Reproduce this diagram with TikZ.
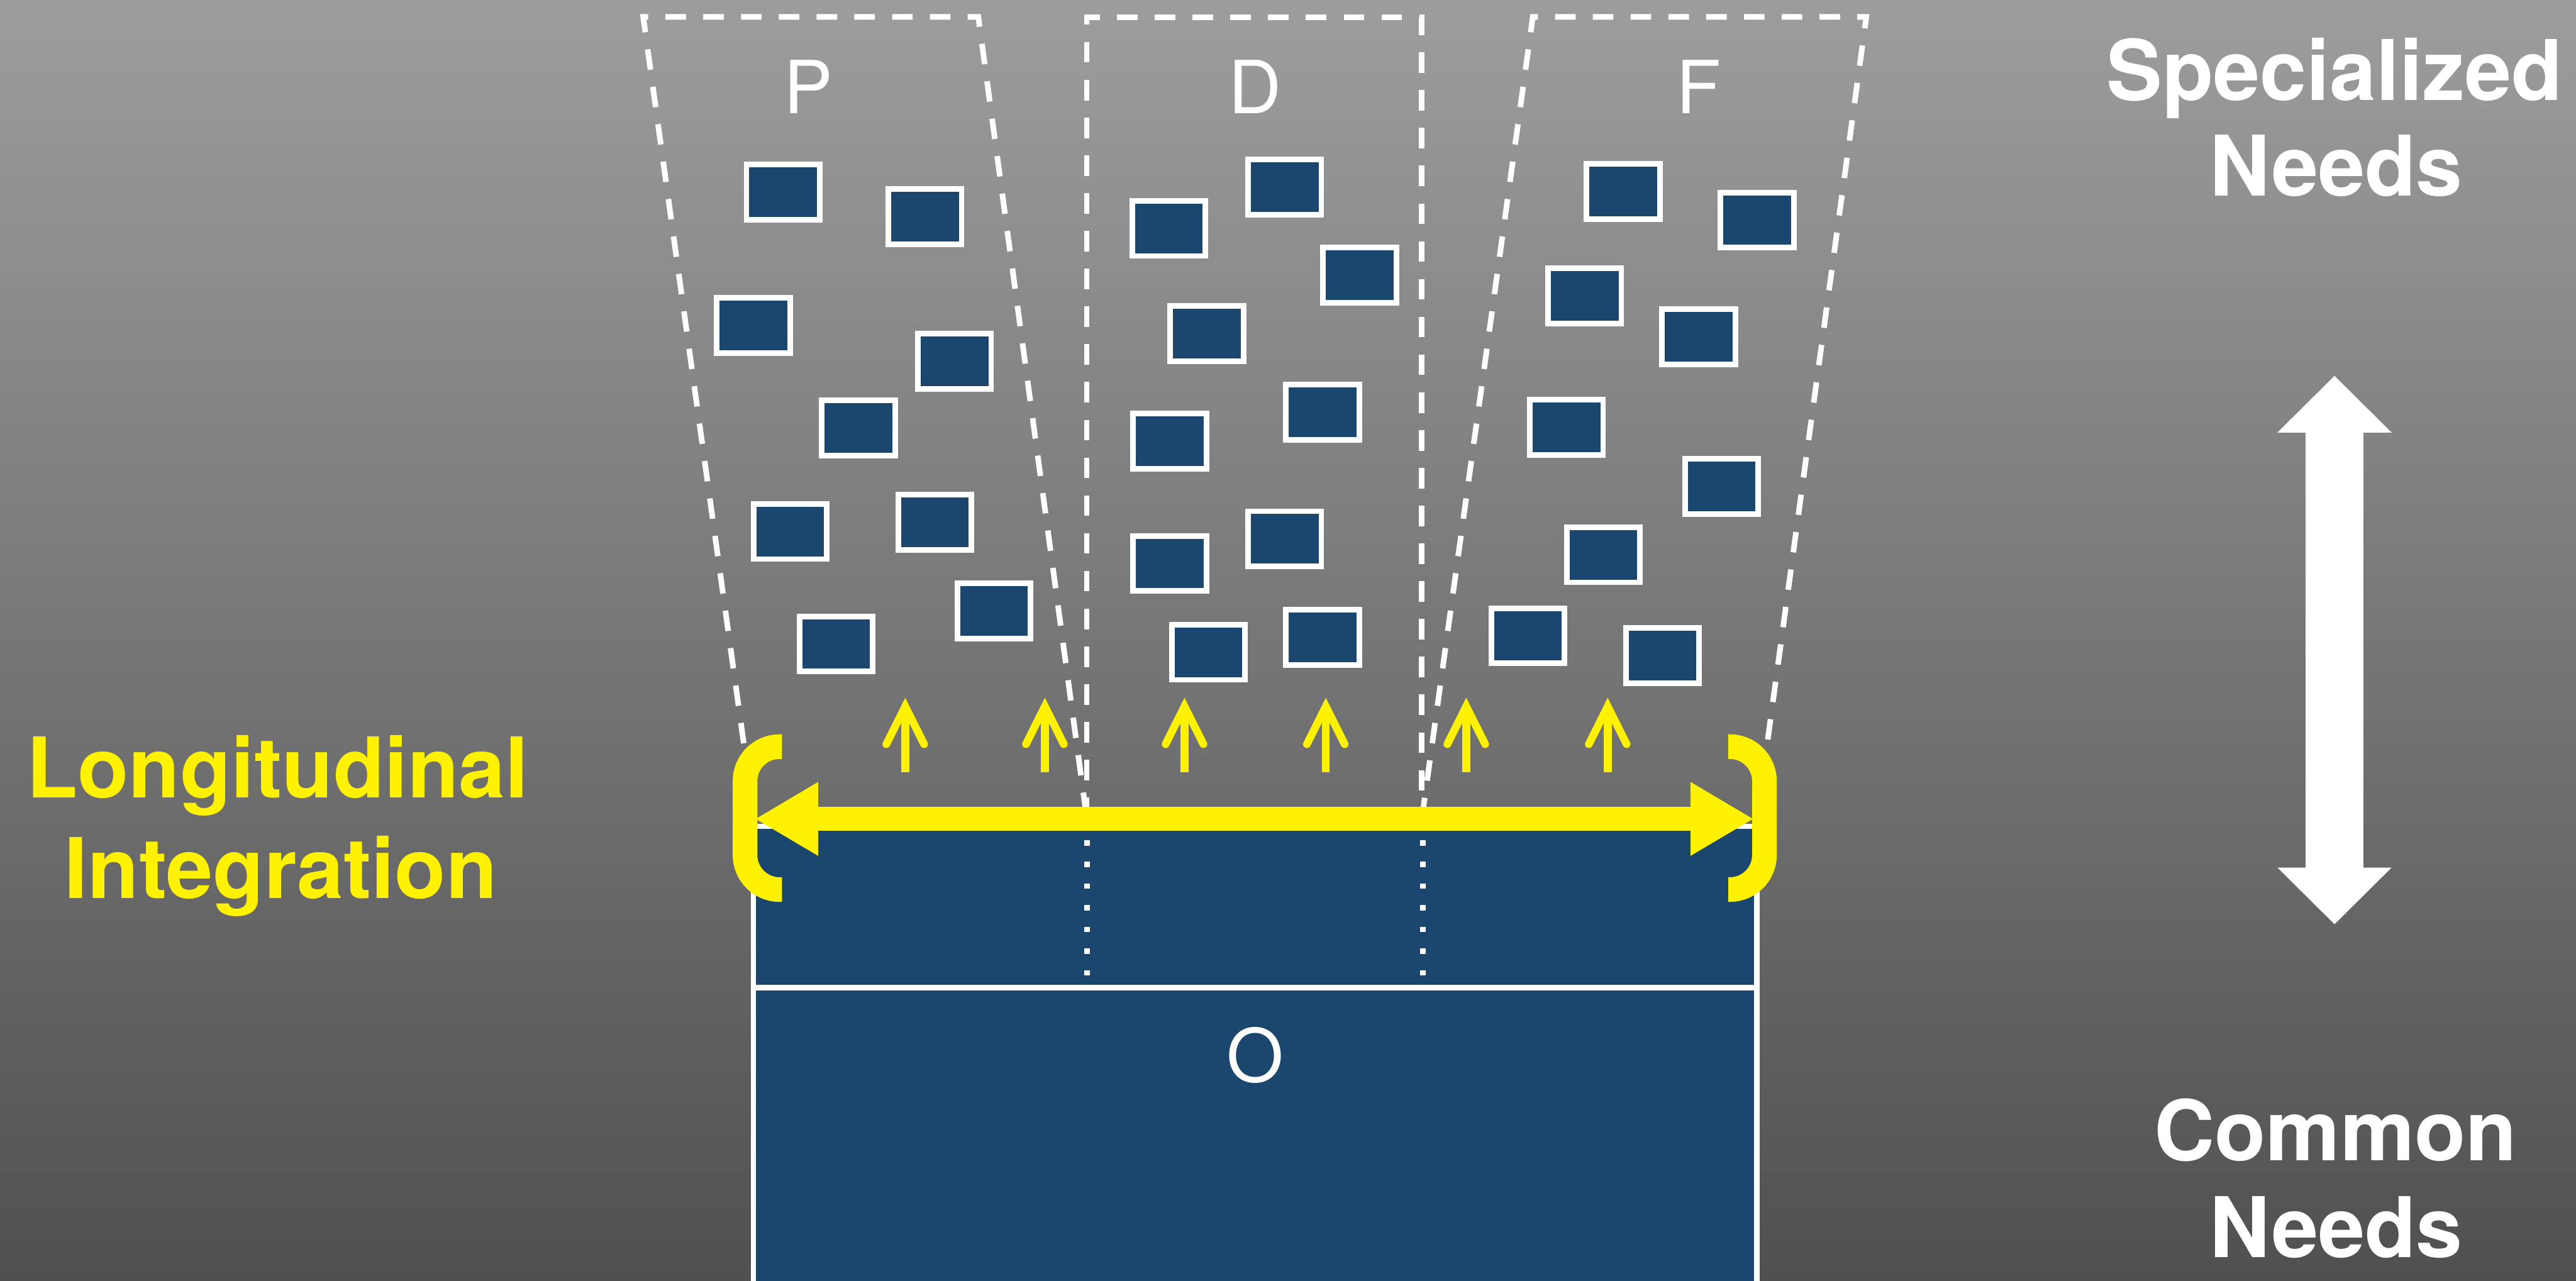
\documentclass[tikz,border=0pt]{standalone}
\usepackage{fontspec}
\setmainfont{TeX Gyre Heros}
\usetikzlibrary{arrows.meta}

\definecolor{navy}{RGB}{27,71,110}
\definecolor{hiyellow}{RGB}{255,242,0}
\definecolor{bgtop}{RGB}{157,157,157}
\definecolor{bgbot}{RGB}{80,80,80}

\tikzset{
  unitbox/.style={draw=white, fill=navy, line width=0.068cm,
    minimum width=0.892cm, minimum height=0.672cm, inner sep=0pt},
  laneline/.style={white, line width=0.068cm, dash pattern=on 0.25cm off 0.21cm},
  dotline/.style={white, line width=0.068cm, dash pattern=on 0.068cm off 0.196cm},
  bigword/.style={anchor=base, inner sep=0pt,
    font=\fontsize{29pt}{34pt}\selectfont\bfseries},
  lanelabel/.style={anchor=base, inner sep=0pt, text=white,
    font=\fontsize{25.4pt}{30pt}\selectfont},
  spanarrow/.style={hiyellow, line width=0.29cm,
    {Triangle[length=0.76cm,width=0.9cm,line width=0pt]}-{Triangle[length=0.76cm,width=0.9cm,line width=0pt]}},
  bracket/.style={hiyellow, line width=0.30cm, rounded corners=0.42cm},
  liftarrow/.style={hiyellow, line width=0.094cm},
  scalearrow/.style={white, line width=0.70cm,
    {Triangle[length=0.69cm,width=1.39cm,line width=0pt]}-{Triangle[length=0.69cm,width=1.39cm,line width=0pt]}},
}

\begin{document}
\begin{tikzpicture}[x=0.02cm, y=-0.02cm]
  \useasboundingbox (0,0) rectangle (1568,779.45);
  \clip (0,0) rectangle (1568,779.45);

  % backdrop
  \shade[top color=bgtop, bottom color=bgbot] (0,0) rectangle (1568,779.45);

  % the three lanes
  \draw[laneline] (459,498) -- (391.5,10.3) -- (595.5,10.3) -- (661.5,498);
  \draw[laneline] (661.5,498) -- (661.5,10.5) -- (865.5,10.5) -- (865.5,498);
  \draw[laneline] (865.5,498) -- (933,10.3) -- (1136,10.3) -- (1069.5,498);

  \node[lanelabel] (labP) at (492,69) {P};
  \node[lanelabel] (labD) at (764,69) {D};
  \node[lanelabel] (labF) at (1034,69) {F};

  % units in lane P
  \foreach \n/\x/\y in {1/476.7/117, 2/563/132, 3/458.6/198, 4/581/220,
      5/522.5/260.5, 6/481/323.5, 7/569/318, 8/605/372, 9/509/392}
    \node[unitbox] (p\n) at (\x,\y) {};
  % units in lane D
  \foreach \n/\x/\y in {1/711.5/139, 2/782/114, 3/827.6/167.4, 4/734.6/203,
      5/805/251, 6/712/268.6, 7/782/328, 8/712/343, 9/735.5/397, 10/805/388}
    \node[unitbox] (d\n) at (\x,\y) {};
  % units in lane F
  \foreach \n/\x/\y in {1/988/116.6, 2/1069.6/134, 3/964.6/180, 4/1034/205,
      5/953.5/260, 6/1048/296, 7/976/337.7, 8/930/387, 9/1012/399}
    \node[unitbox] (f\n) at (\x,\y) {};

  % common base block
  \draw[white, fill=navy, line width=0.068cm] (458.6,503) rectangle (1069.3,800);
  \draw[dotline] (661.8,511.3) -- (661.8,597);
  \draw[dotline] (866,511.3) -- (866,597);
  \draw[white, line width=0.076cm] (458.6,601.2) -- (1069.3,601.2);
  \node[lanelabel] (labO) at (764,658.5) {O};

  % integration span
  \coordinate (spanL) at (460,498.5);
  \coordinate (spanR) at (1067,498.5);
  \draw[spanarrow] (spanL) -- (spanR);
  \draw[bracket] (476,454.5) -- (453.5,454.5) -- (453.5,541.5) -- (476,541.5);
  \draw[bracket] (1052,454.5) -- (1074,454.5) -- (1074,541.5) -- (1052,541.5);

  % upward lifts into the lanes
  \foreach \k/\x in {1/551, 2/636, 3/721, 4/807, 5/892.5, 6/978.6} {
    \coordinate (lift\k b) at (\x,470);
    \coordinate (lift\k t) at (\x,430);
    \draw[liftarrow] (lift\k b) -- (lift\k t);
    \draw[liftarrow, line join=miter, line cap=round]
      ([xshift=-0.23cm, yshift=-0.46cm]lift\k t) -- (lift\k t)
      -- ([xshift=0.23cm, yshift=-0.46cm]lift\k t);
  }

  % side captions
  \node[bigword, text=hiyellow] (lon1) at (169,485.6) {Longitudinal};
  \node[bigword, text=hiyellow] (lon2) at (171,547) {Integration};
  \node[bigword, text=white] (spec1) at (1421,61) {Specialized};
  \node[bigword, text=white] (spec2) at (1422,119.4) {Needs};
  \node[bigword, text=white] (com1) at (1421.6,706.6) {Common};
  \node[bigword, text=white] (com2) at (1422,765.4) {Needs};

  % specialized <-> common scale
  \coordinate (scaleTop) at (1421,228.8);
  \coordinate (scaleBot) at (1421,562.6);
  \draw[scalearrow] (scaleBot) -- (scaleTop);
\end{tikzpicture}
\end{document}
